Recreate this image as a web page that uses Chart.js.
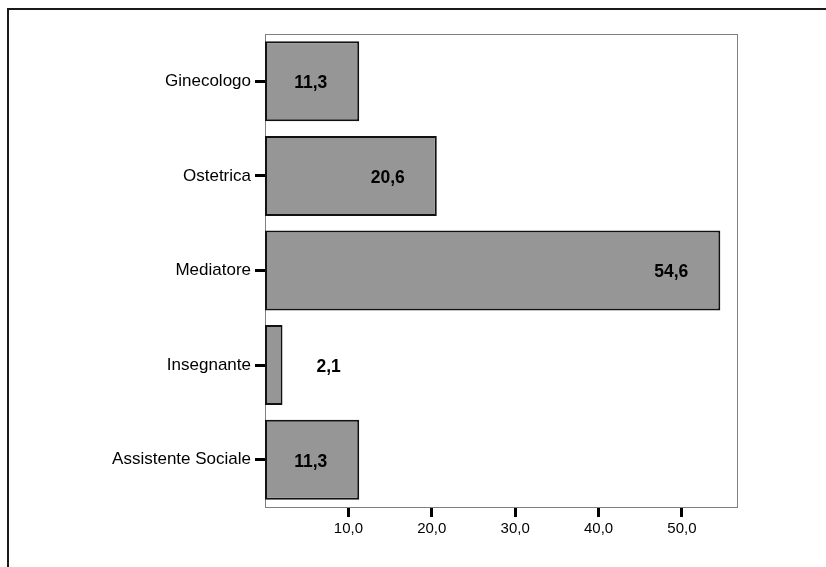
<!DOCTYPE html>
<html><head><meta charset="utf-8">
<script src="https://cdn.jsdelivr.net/npm/chart.js@4"></script>
<style>
html,body{margin:0;padding:0;background:#fff;}
#wrap{position:relative;width:826px;height:567px;}
#frame{position:absolute;left:7px;top:8px;right:0;bottom:0;border-top:2px solid #1a1a1a;border-left:2px solid #1a1a1a;pointer-events:none;}
canvas{position:absolute;left:0;top:0;}
</style></head>
<body>
<div id="wrap"><canvas id="c" width="826" height="567"></canvas><div id="frame"></div></div>
<script>
const categories = ["Ginecologo", "Ostetrica", "Mediatore", "Insegnante", "Assistente Sociale"];
const values = [11.3, 20.6, 54.6, 2.1, 11.3];
const xTickValues = [10, 20, 30, 40, 50];
const xMax = 56.6;

const fmt = v => v.toFixed(1).replace('.', ',');
const FONT = "'Liberation Sans', Arial, sans-serif";

const framePlugin = {
  id: 'frame',
  beforeDatasetsDraw(chart) {
    const a = chart.chartArea, ctx = chart.ctx;
    ctx.save();
    ctx.strokeStyle = '#808080';
    ctx.lineWidth = 1;
    ctx.strokeRect(Math.round(a.left) + 0.5, Math.round(a.top) + 0.5, Math.round(a.right - a.left), Math.round(a.bottom - a.top));
    ctx.restore();
  }
};

const labelPlugin = {
  id: 'vlabels',
  afterDatasetsDraw(chart) {
    const ctx = chart.ctx;
    const meta = chart.getDatasetMeta(0);
    const xs = chart.scales.x;
    ctx.save();
    ctx.font = "bold 17.5px " + FONT;
    ctx.fillStyle = '#000';
    ctx.textBaseline = 'middle';
    meta.data.forEach((bar, i) => {
      const end = xs.getPixelForValue(values[i]);
      const start = xs.getPixelForValue(0);
      const txt = fmt(values[i]);
      if (end - start > 60) {
        ctx.textAlign = 'right';
        ctx.fillText(txt, end - 32, bar.y + 2);
      } else {
        ctx.textAlign = 'left';
        ctx.fillText(txt, end + 34, bar.y + 2);
      }
    });
    ctx.restore();
  }
};

new Chart(document.getElementById('c'), {
  type: 'bar',
  data: {
    labels: categories,
    datasets: [{
      data: values,
      backgroundColor: '#969696',
      borderColor: '#111',
      borderWidth: 2,
      borderSkipped: false,
      barPercentage: 0.846,
      categoryPercentage: 1
    }]
  },
  options: {
    indexAxis: 'y',
    responsive: false,
    animation: false,
    layout: { padding: { top: 34, right: 89, left: 0, bottom: 0 } },
    plugins: { legend: { display: false }, tooltip: { enabled: false } },
    scales: {
      x: {
        min: 0, max: xMax,
        afterBuildTicks(scale) { scale.ticks = xTickValues.map(v => ({ value: v })); },
        afterFit(scale) { scale.height = 60; },
        border: { display: true, color: '#808080', width: 1 },
        grid: { drawOnChartArea: false, drawTicks: true, tickLength: 10, tickColor: '#000', tickWidth: 3 },
        ticks: { color: '#000', font: { family: FONT, size: 15 }, padding: 3, autoSkip: false, maxRotation: 0, callback: v => fmt(v) }
      },
      y: {
        afterFit(scale) { scale.width = 265; },
        border: { display: true, color: '#808080', width: 1 },
        grid: { offset: false, drawOnChartArea: false, drawTicks: true, tickLength: 10, tickColor: '#000', tickWidth: 3 },
        ticks: { color: '#000', font: { family: FONT, size: 17 }, padding: 4 }
      }
    }
  },
  plugins: [framePlugin, labelPlugin]
});
</script>
</body></html>
